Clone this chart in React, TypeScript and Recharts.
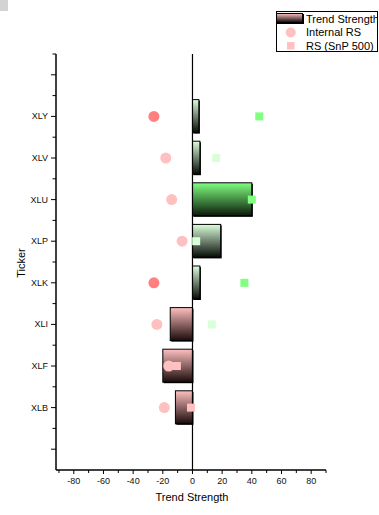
import { ComposedChart, Bar, Scatter, XAxis, YAxis, ReferenceLine } from "recharts";

// sector tickers, top to bottom
const tickers = ["XLY", "XLV", "XLU", "XLP", "XLK", "XLI", "XLF", "XLB"];
const trendStrength = [4.3, 5, 40, 19, 5, -15, -20, -11.5];
const internalRS = [-26, -18, -14, -7, -26, -24, -16, -19];
const snpRS = [45, 16, 40, 2.5, 35, 13, -10.5, -1];
const xTicks = [-90, -80, -70, -60, -50, -40, -30, -20, -10, 0, 10, 20, 30, 40, 50, 60, 70, 80, 90];

// empty rows above and below the sectors, as in the original axis
const data = [
  { ticker: "pad-top" },
  ...tickers.map((t, i) => ({
    ticker: t,
    trend: trendStrength[i],
    internal: internalRS[i],
    snp: snpRS[i],
  })),
  { ticker: "pad-bottom" },
];

const FONT = "'Liberation Sans', Arial, sans-serif";
const BAND = 41.6;

const posColor = (v: number) => (v < 0 ? "#ffc0c0" : Math.abs(v) >= 25 ? "#80ff80" : "#d8ffd8");

function TrendBar(props: any) {
  const { x, y, width, height, payload } = props;
  if (payload == null || payload.trend == null) return null;
  const v = payload.trend;
  const id = v < 0 ? "gradNeg" : v >= 25 ? "gradStrong" : "gradPos";
  const left = Math.min(x, x + width);
  const w = Math.abs(width);
  return (
    <g>
      <rect x={left + 1} y={y + 1} width={w} height={height} fill="#000" />
      <rect x={left} y={y} width={w} height={height} fill={`url(#${id})`} stroke="#000" strokeWidth={1} />
    </g>
  );
}

function RsDot(props: any) {
  const { cx, cy, payload } = props;
  if (payload == null || payload.internal == null || cx == null || isNaN(cx)) return null;
  const fill = payload.internal <= -25 ? "#ff8080" : "#ffc0c0";
  return <circle cx={cx} cy={cy} r={5.5} fill={fill} />;
}

function SnpSquare(props: any) {
  const { cx, cy, payload } = props;
  if (payload == null || payload.snp == null || cx == null || isNaN(cx)) return null;
  return <rect x={cx - 4} y={cy - 4} width={8} height={8} fill={posColor(payload.snp)} />;
}

function YTick(props: any) {
  const { x, y, payload } = props;
  const label = String(payload.value).startsWith("pad") ? "" : payload.value;
  return (
    <g>
      <line x1={x - 5} y1={y} x2={x} y2={y} stroke="#000" strokeWidth={1} />
      <line x1={x - 3.5} y1={y - BAND / 2} x2={x} y2={y - BAND / 2} stroke="#000" strokeWidth={1} />
      {label && (
        <text x={x - 8} y={y} textAnchor="end" dominantBaseline="central" fontSize={9} fontFamily={FONT} fill="#111">
          {label}
        </text>
      )}
    </g>
  );
}

function XTick(props: any) {
  const { x, y, payload } = props;
  const v = payload.value;
  const major = v % 20 === 0;
  return (
    <g>
      <line x1={x} y1={y} x2={x} y2={y + (major ? 4 : 3)} stroke="#000" strokeWidth={1} />
      {major && (
        <text x={x} y={y + 11} textAnchor="middle" dominantBaseline="central" fontSize={9} fontFamily={FONT} fill="#111">
          {v}
        </text>
      )}
    </g>
  );
}

function Legend() {
  return (
    <svg
      width={102}
      height={42}
      style={{ position: "absolute", left: 276, top: 11 }}
    >
      <rect x={0.5} y={0.5} width={101} height={40} fill="#fff" stroke="#000" strokeWidth={1} />
      <rect x={1} y={3} width={27} height={10} fill="#000" />
      <rect x={0.5} y={2.5} width={26} height={9} fill="url(#legNeg)" stroke="#000" strokeWidth={1} />
      <text x={30} y={7.5} dominantBaseline="central" fontSize={11} fontFamily={FONT} fill="#000">
        Trend Strength
      </text>
      <circle cx={14.7} cy={21.5} r={5} fill="#ffc0c0" />
      <text x={30} y={21} dominantBaseline="central" fontSize={11} fontFamily={FONT} fill="#000">
        Internal RS
      </text>
      <rect x={11} y={31} width={7.5} height={7.5} fill="#ffc0c0" />
      <text x={30} y={34.5} dominantBaseline="central" fontSize={11} fontFamily={FONT} fill="#000">
        RS (SnP 500)
      </text>
      <defs>
        <linearGradient id="legNeg" x1="0" y1="0" x2="0" y2="1">
          <stop offset="0" stopColor="#ffc0c0" />
          <stop offset="1" stopColor="#0a0505" />
        </linearGradient>
      </defs>
    </svg>
  );
}

export default function App() {
  return (
    <div style={{ position: "absolute", left: 0, top: 0, width: 379, height: 515, background: "#fff" }}>
      <div style={{ position: "absolute", left: 0, top: 0, width: 8, height: 11, background: "#d3d3d3" }} />
      <ComposedChart
        width={379}
        height={515}
        data={data}
        layout="vertical"
        margin={{ top: 54, right: 53, bottom: 15, left: 6 }}
      >
        <defs>
          <linearGradient id="gradPos" x1="0" y1="0" x2="0" y2="1">
            <stop offset="0" stopColor="#dcffdc" />
            <stop offset="1" stopColor="#050a05" />
          </linearGradient>
          <linearGradient id="gradStrong" x1="0" y1="0" x2="0" y2="1">
            <stop offset="0" stopColor="#80ff80" />
            <stop offset="1" stopColor="#0a1a0a" />
          </linearGradient>
          <linearGradient id="gradNeg" x1="0" y1="0" x2="0" y2="1">
            <stop offset="0" stopColor="#ffc0c0" />
            <stop offset="1" stopColor="#1a0a0a" />
          </linearGradient>
        </defs>
        <XAxis
          type="number"
          domain={[-92, 90]}
          ticks={xTicks}
          interval={0}
          allowDataOverflow
          height={30}
          tickSize={0}
          tickMargin={0}
          tickLine={false}
          axisLine={{ stroke: "#000", strokeWidth: 1.5 }}
          tick={<XTick />}
          label={{
            content: () => (
              <text x={192} y={497} textAnchor="middle" dominantBaseline="central" fontSize={11} fontFamily={FONT} fill="#000">
                Trend Strength
              </text>
            ),
          }}
        />
        <YAxis
          type="category"
          dataKey="ticker"
          width={50}
          tickSize={0}
          tickMargin={0}
          tickLine={false}
          interval={0}
          axisLine={{ stroke: "#000", strokeWidth: 1.5 }}
          tick={<YTick />}
          label={{
            content: () => (
              <text
                x={20.5}
                y={263}
                transform="rotate(-90 20.5 263)"
                textAnchor="middle"
                dominantBaseline="central"
                fontSize={11}
                fontFamily={FONT}
                fill="#000"
              >
                Ticker
              </text>
            ),
          }}
        />
        <Bar dataKey="trend" barSize={33} shape={<TrendBar />} isAnimationActive={false} />
        <Scatter dataKey="internal" shape={<RsDot />} isAnimationActive={false} />
        <Scatter dataKey="snp" shape={<SnpSquare />} isAnimationActive={false} />
        <ReferenceLine x={0} stroke="#000" strokeWidth={1.2} />
      </ComposedChart>
      <Legend />
    </div>
  );
}
